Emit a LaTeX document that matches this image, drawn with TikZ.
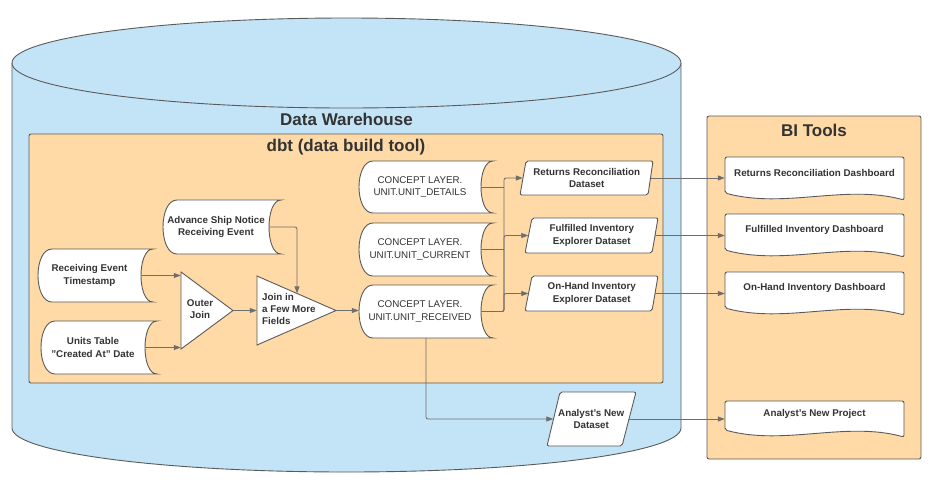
\documentclass[tikz,border=0pt]{standalone}
\usepackage{fontspec}
\setmainfont{Liberation Sans}
\usetikzlibrary{arrows.meta,calc}
\definecolor{cylblue}{HTML}{C3E4F6}
\definecolor{peach}{HTML}{FFD9A6}
\definecolor{edgegray}{HTML}{5A5A5A}
\definecolor{wiregray}{HTML}{6E6E6E}
\definecolor{ink}{HTML}{333333}
\tikzset{
  shapeline/.style={draw=edgegray,line width=0.9pt},
  box/.style={inner sep=0pt,align=center,text=ink,font=\fontsize{9.8}{12.3}\selectfont\bfseries},
  plainbox/.style={font=\fontsize{9.8}{12.5}\selectfont},
  titletext/.style={inner sep=0pt,text=ink,font=\fontsize{17}{20}\selectfont\bfseries},
  wireline/.style={draw=wiregray,line width=0.8pt},
  arr/.style={draw=wiregray,line width=0.8pt,-{Triangle[length=7pt,width=5pt]}},
}
% stored data: [style]{name}{x1}{y1}{x2}{y2}{text}
\newcommand{\storedshape}[7][]{%
  \draw[shapeline,fill=white] ({#3+14},#4) -- (#5,#4) .. controls ({#5-16},#4) and ({#5-16},#6) .. (#5,#6) -- ({#3+14},#6) .. controls ({#3-4.67},#6) and ({#3-4.67},#4) .. ({#3+14},#4) -- cycle;
  \node[box,#1,minimum width={(#5-12-#3)*1pt},minimum height={(#6-#4)*1pt}] (#2) at ({(#3+#5-12)/2},{(#4+#6)/2}) {#7};
}
% parallelogram: {name}{tlx}{trx}{blx}{brx}{ytop}{ybot}{text}
\newcommand{\paragram}[8]{%
  \draw[shapeline,fill=white,rounded corners=2pt] (#2,#6) -- (#3,#6) -- (#5,#7) -- (#4,#7) -- cycle;
  \node[box,minimum width={((#3+#5-#2-#4)/2)*1pt},minimum height={(#7-#6)*1pt}] (#1) at ({(#2+#3+#4+#5)/4},{(#6+#7)/2}) {#8};
}
% document: {name}{x1}{ytop}{x2}{h}{text offset}{text}
\newcommand{\docshape}[7]{%
  \draw[shapeline,fill=white,rounded corners=2pt] (#2,{#3+#5-7}) -- (#2,#3) -- (#4,#3) -- (#4,{#3+#5}) .. controls ({#4-59},{#3+#5-16}) and ({#4-119},{#3+#5+9}) .. (#2,{#3+#5-7}) -- cycle;
  \node[inner sep=0pt,minimum width={(#4-#2)*1pt},minimum height={#5*1pt}] (#1) at ({(#2+#4)/2},{#3+#5/2}) {};
  \node[box] (#1-t) at ({(#2+#4)/2},{#3+#6}) {#7};
}
\begin{document}
\begin{tikzpicture}[x=1pt,y=-1pt]
\useasboundingbox (0,0) rectangle (936,488);
% cylinder
\fill[cylblue] (12,63) -- (12,428) arc[start angle=180,end angle=360,x radius=334.5pt,y radius=44pt] -- (681,63) -- cycle;
\draw[shapeline] (12,63) -- (12,428) arc[start angle=180,end angle=360,x radius=334.5pt,y radius=44pt] -- (681,63);
\draw[shapeline,fill=cylblue] (346.5,63) ellipse[x radius=334.5pt,y radius=45pt];
\node[titletext] (dw) at (346.5,119) {Data Warehouse};
% dbt container
\draw[shapeline,fill=peach,rounded corners=2pt] (29,134) rectangle (663,383);
\node[titletext] (dbt) at (346,147) {dbt (data build tool)};
% BI tools container
\draw[shapeline,fill=peach,rounded corners=2pt] (707,116) rectangle (921,459);
\node[titletext] (bi) at (814,130) {BI Tools};
% sources
\storedshape{ret}{38}{249}{153}{302}{Receiving Event\\Timestamp}
\storedshape{units}{41}{321}{157}{374}{Units Table\\"Created At" Date}
\storedshape{asn}{163}{200}{281}{254}{Advance Ship Notice\\Receiving Event}
% joins
\draw[shapeline,fill=white] (181,272) -- (233,310.5) -- (181,349) -- cycle;
\node[inner sep=0pt,minimum width=52pt,minimum height=77pt] (oj) at (207,310.5) {};
\node[box] (oj-t) at (200,309) {Outer\\Join};
\draw[shapeline,fill=white] (257,276) -- (336,310.5) -- (257,345) -- cycle;
\node[inner sep=0pt,minimum width=79pt,minimum height=69pt] (jf) at (296.5,310.5) {};
\node[box,align=left,anchor=west] (jf-t) at (262,309) {Join in\\ a Few More\\ Fields};
\coordinate (jftop) at ($(jf.north west)!0.506!(jf.east)$);
% concept layer
\storedshape[plainbox]{ud}{359}{161}{493}{213}{CONCEPT LAYER.\\UNIT.UNIT\_DETAILS}
\storedshape[plainbox]{uc}{359}{223}{493}{276}{CONCEPT LAYER.\\UNIT.UNIT\_CURRENT}
\storedshape[plainbox]{ur}{359}{285}{493}{338}{CONCEPT LAYER.\\UNIT.UNIT\_RECEIVED}
\coordinate (bus) at (504,250);
% datasets
\paragram{rrds}{526}{653}{520}{648}{161}{195}{Returns Reconciliation\\Dataset}
\paragram{fids}{532}{658}{525}{652}{218}{253}{Fulfilled Inventory\\Explorer Dataset}
\paragram{ohds}{532}{658}{525}{652}{276}{311}{On-Hand Inventory\\Explorer Dataset}
\paragram{ands}{560}{636}{547}{622}{392}{446}{Analyst's New\\Dataset}
% dashboards
\docshape{rrdb}{725}{157}{904}{43}{16}{Returns Reconciliation Dashboard}
\docshape{fidb}{725}{214}{904}{43}{16}{Fulfilled Inventory Dashboard}
\docshape{ohdb}{725}{272}{904}{43}{16}{On-Hand Inventory Dashboard}
\docshape{anp}{725}{401}{904}{36}{13}{Analyst's New Project}
% connectors
\draw[arr] (ret.east) -- (ret.east -| oj.west);
\draw[arr] (units.east) -- (units.east -| oj.west);
\draw[arr] (oj.east) -- (jf.west);
\draw[arr,rounded corners=2pt] (asn.east) -| (jftop);
\draw[arr] (jf.east) -- (jf.east -| ur.west);
\draw[wireline] (ud.east) -- (ud.east -| bus);
\draw[wireline] (uc.east) -- (uc.east -| bus);
\foreach \ds in {rrds,fids,ohds}
  \draw[arr,rounded corners=2pt] (ur.east) -- (ur.east -| bus) |- (\ds.west);
\draw[arr,rounded corners=2pt] ([xshift=6pt]ur.south) |- (ands.west);
\draw[arr] (rrds.east) -- (rrds.east -| rrdb.west);
\draw[arr] (fids.east) -- (fids.east -| fidb.west);
\draw[arr] (ohds.east) -- (ohds.east -| ohdb.west);
\draw[arr] (ands.east) -- (ands.east -| anp.west);
\end{tikzpicture}
\end{document}
